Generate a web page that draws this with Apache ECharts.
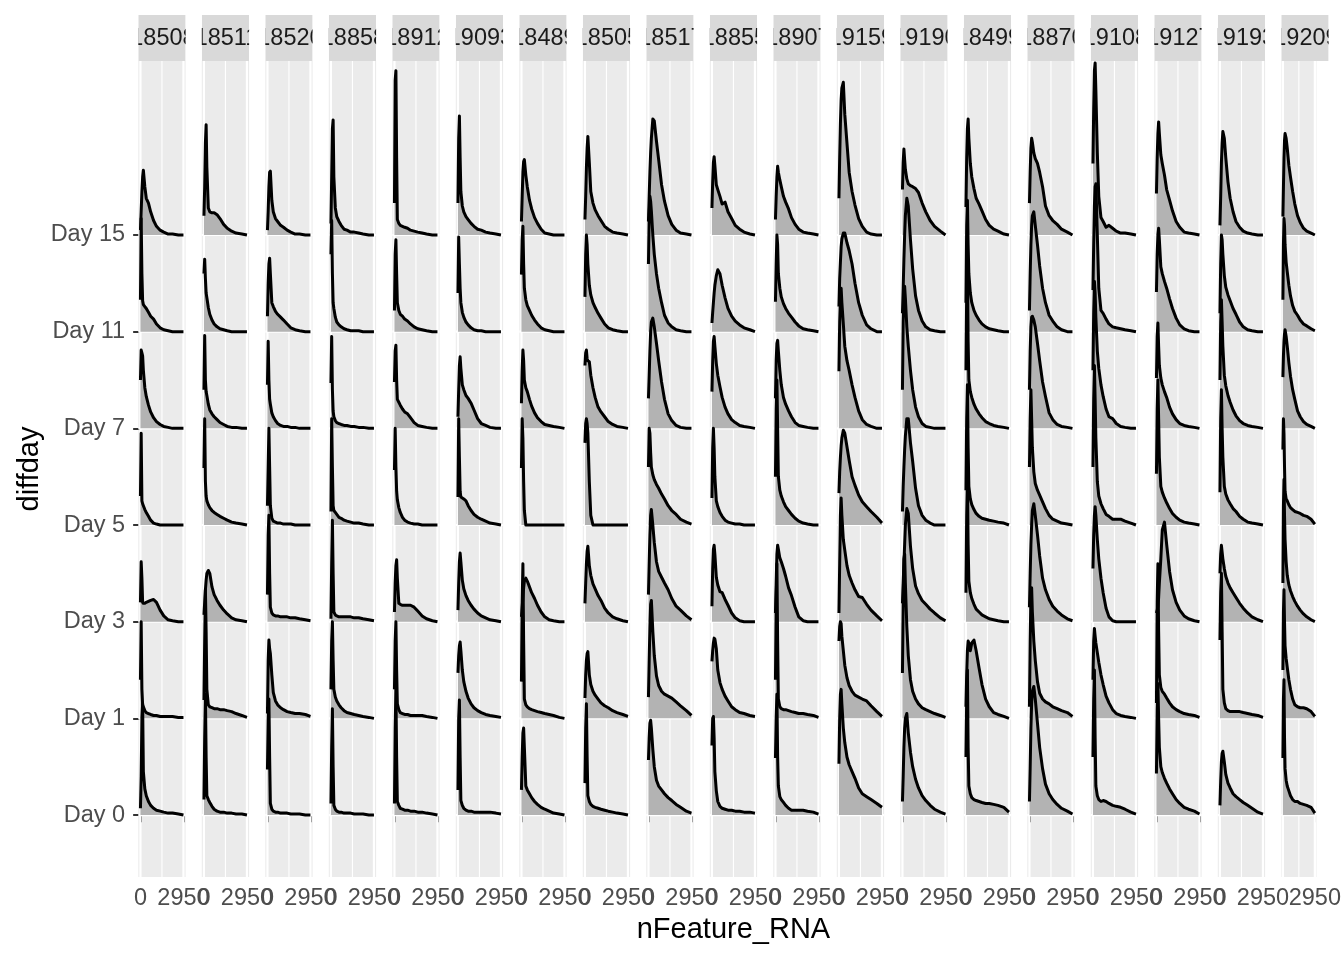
<!DOCTYPE html>
<html><head><meta charset="utf-8">
<script src="https://cdn.jsdelivr.net/npm/echarts@6/dist/echarts.min.js"></script>
<style>html,body{margin:0;padding:0;background:#fff}#c{width:1344px;height:960px}</style>
</head><body><div id="c"></div>
<script>
// ---------------- data ----------------
const individuals = ['18508','18511','18520','18858','18912','19093','18489','18505','18517','18855','18907','19159','19190','18499','18870','19108','19127','19193','19209'];
const dayLabels = ['Day 0','Day 1','Day 3','Day 5','Day 7','Day 11','Day 15'];
const dayPos = [0,1,2,3,4,5,6];
const xBreaks = [0, 2950];
const xMinorBreaks = [1475];
// nFeature_RNA grid on which ridge heights are read
const xGrid = [0,50,100,150,200,300,400,550,700,900,1100,1350,1600,1900,2200,2600,2950];
// ridge heights (in hundredths of one row), rows: Day 0, Day 1, Day 3, Day 5, Day 7, Day 11, Day 15
const ind18508 = [
 [7,40,100,115,45,27,20,14,10,7,5,4,3,2,2,1,0],
 [40,100,30,14,12,8,6,5,4,3,3,2,2,2,2,1,1],
 [20,62,45,20,19,19,20,21,22,23,20,12,6,2,1,0,0],
 [30,95,25,22,20,16,13,9,5,2,1,0,0,0,0,0,0],
 [50,81,78,75,60,42,33,24,17,11,7,4,2,1,0,0,0],
 [33,117,60,32,28,26,24,20,16,13,8,4,2,1,0,0,0],
 [5,25,45,60,67,50,38,33,24,15,9,5,3,1,1,0,0]];
const ind18511 = [
 [16,80,125,60,20,16,13,9,6,4,3,3,2,2,1,1,0],
 [19,80,133,90,30,14,12,11,10,10,9,9,8,7,5,3,1],
 [7,20,33,43,50,53,50,36,28,22,17,12,8,4,2,1,0],
 [59,110,45,30,25,21,18,15,13,11,9,7,5,3,2,1,0],
 [40,96,50,38,34,25,19,15,12,9,6,4,2,1,1,0,0],
 [60,75,55,40,35,25,18,12,8,5,3,2,1,0,0,0,0],
 [20,50,95,114,70,28,24,23,23,21,17,11,7,4,2,1,0]];
const ind18520 = [
 [47,100,120,60,12,6,4,3,3,2,2,2,1,1,1,0,0],
 [5,60,81,72,67,45,27,18,14,11,9,7,6,5,5,4,2],
 [28,90,110,50,15,9,7,6,6,5,5,5,4,4,3,2,1],
 [20,60,100,60,20,7,4,3,2,2,1,1,1,0,0,0,0],
 [45,90,50,30,25,16,12,8,5,3,2,2,1,1,0,0,0],
 [16,50,70,76,60,30,26,21,18,15,12,8,4,2,1,0,0],
 [5,25,50,65,66,36,24,17,14,10,8,5,3,1,1,0,0]];
const ind18858 = [
 [12,70,110,50,10,6,4,3,3,2,2,2,1,1,1,0,0],
 [30,80,100,60,30,22,18,14,11,8,6,5,4,3,2,1,0],
 [3,60,105,50,10,7,6,5,5,5,5,5,4,4,3,2,1],
 [14,110,60,20,15,13,11,8,7,5,4,3,2,2,1,0,0],
 [47,95,40,18,12,8,6,5,4,3,3,2,2,1,1,0,0],
 [80,115,60,30,24,15,10,7,5,3,2,1,1,1,0,0,0],
 [12,60,110,119,60,28,19,14,10,6,5,3,3,2,1,0,0]];
const ind18912 = [
 [12,90,130,60,14,10,7,6,5,5,4,4,3,3,2,1,0],
 [30,80,100,50,15,9,6,5,4,4,3,3,3,3,2,1,0],
 [10,40,58,64,45,19,18,17,17,17,17,15,11,6,3,1,0],
 [57,100,60,35,26,18,13,8,5,3,2,1,1,0,0,0,0],
 [48,80,86,50,30,27,24,20,17,15,11,6,3,2,1,0,0],
 [22,80,95,60,30,22,18,16,13,11,8,5,3,2,1,0,0],
 [33,160,170,80,16,12,10,9,8,7,5,4,3,2,1,0,0]];
const ind19093 = [
 [26,100,119,60,15,10,7,5,4,4,3,3,3,3,3,2,1],
 [47,65,75,79,70,50,38,28,21,15,11,8,6,4,3,2,1],
 [12,40,62,71,62,43,34,27,22,17,13,9,6,4,2,1,0],
 [29,110,70,35,29,28,27,25,20,15,11,8,6,4,2,1,0],
 [12,40,65,74,62,45,40,34,31,26,19,10,5,3,1,0,0],
 [40,98,70,45,30,20,15,10,7,4,2,1,1,0,0,0,0],
 [33,100,123,80,45,30,24,19,16,12,9,6,5,3,2,1,0]];
const ind18489 = [
 [26,60,85,90,70,30,26,22,18,14,11,8,6,4,2,1,0],
 [38,120,160,80,20,14,12,10,9,8,7,6,5,4,3,1,0],
 [5,15,25,35,42,45,42,36,30,24,17,10,5,2,1,0,0],
 [59,110,90,45,15,0,0,0,0,0,0,0,0,0,0,0,0],
 [26,60,81,70,50,42,38,30,23,16,11,7,4,3,2,1,0],
 [59,95,109,70,45,33,27,22,17,12,8,4,2,1,0,0,0],
 [14,40,65,76,78,62,50,36,27,18,12,6,2,1,0,0,0]];
const ind18505 = [
 [33,90,115,60,20,14,11,9,8,7,6,5,4,3,2,1,0],
 [21,45,60,67,69,45,35,28,24,20,16,13,11,8,6,4,2],
 [19,40,60,73,78,58,48,39,34,27,22,14,9,5,3,1,0],
 [85,105,110,105,95,45,10,0,0,0,0,0,0,0,0,0,0],
 [65,78,81,72,70,69,55,42,32,22,17,12,7,4,2,1,0],
 [36,80,100,90,70,48,38,30,25,19,14,8,4,2,1,0,0],
 [16,40,70,90,102,75,45,33,26,20,15,9,6,3,2,1,0]];
const ind18517 = [
 [57,80,95,98,90,68,50,36,30,26,22,18,15,11,8,4,2],
 [22,60,95,118,122,90,65,44,34,28,25,23,21,17,13,8,3],
 [28,60,90,110,116,100,82,62,52,46,40,33,24,16,12,6,2],
 [60,100,95,75,60,52,47,42,38,32,27,20,15,11,6,3,1],
 [31,55,80,100,110,114,105,88,70,48,30,15,8,3,1,0,0],
 [70,120,140,135,125,100,80,60,45,30,17,9,5,2,1,0,0],
 [14,40,65,85,100,120,118,97,78,52,35,20,11,5,2,1,0]];
const ind18855 = [
 [72,100,102,80,45,25,14,9,7,6,5,5,4,4,3,3,2],
 [59,70,78,83,82,72,50,37,30,23,18,12,9,6,5,3,2],
 [16,55,75,79,70,46,38,31,30,23,17,9,4,1,0,0,0],
 [28,80,100,80,50,25,19,13,9,5,3,2,1,1,0,0,0],
 [38,70,90,95,85,67,55,43,32,22,15,9,6,3,2,1,0],
 [9,20,30,40,48,58,64,60,48,35,24,16,11,7,4,2,0],
 [28,55,75,81,72,52,47,40,32,34,24,17,10,6,3,1,0]];
const ind18907 = [
 [59,100,125,60,30,19,16,13,10,7,5,5,5,5,4,3,1],
 [40,120,160,80,20,12,10,9,9,8,7,6,5,5,4,3,1],
 [9,40,70,79,75,66,62,55,47,35,27,15,5,1,0,0,0],
 [50,120,150,100,50,36,30,24,19,15,11,7,4,2,1,0,0],
 [31,70,88,91,80,60,45,32,25,18,12,6,3,2,1,0,0],
 [31,70,100,90,60,45,36,29,24,19,15,10,6,3,2,1,0],
 [16,40,60,71,65,57,50,40,34,27,18,11,6,3,2,1,0]];
const ind19159 = [
 [53,100,125,130,115,90,75,60,52,45,38,28,22,19,16,12,8],
 [80,95,100,98,85,70,55,42,34,28,24,22,20,18,13,7,2],
 [9,60,110,128,110,85,74,58,48,40,33,26,25,18,12,6,1],
 [33,55,70,82,90,98,95,81,67,50,41,31,24,19,14,8,2],
 [59,110,135,145,130,108,85,70,60,45,32,18,9,4,2,0,0],
 [26,55,72,88,96,102,102,92,84,70,50,30,17,7,3,0,0],
 [38,80,115,140,152,158,125,95,65,45,31,17,9,3,1,0,0]];
const ind19190 = [
 [14,40,70,90,100,105,85,65,50,37,28,20,15,10,6,3,1],
 [47,120,165,170,140,95,65,40,28,20,15,11,9,7,5,3,1],
 [19,40,60,80,100,117,112,78,55,37,29,22,18,13,9,4,1],
 [14,40,60,78,92,110,110,85,66,38,20,10,5,2,0,0,0],
 [40,110,140,147,135,105,85,60,40,22,12,5,2,1,0,0,0],
 [19,45,75,100,120,138,130,95,65,37,22,11,5,2,1,0,0],
 [47,75,89,78,68,58,53,51,50,48,44,33,24,15,9,4,0]];
const ind18499 = [
 [60,120,150,70,30,22,18,16,15,14,13,12,12,11,10,8,3],
 [12,45,70,80,78,70,78,81,70,52,35,20,12,6,4,2,0],
 [30,110,150,80,42,30,24,18,13,10,7,5,3,2,1,0,0],
 [36,110,145,80,40,27,21,16,12,9,7,6,5,4,3,2,0],
 [60,140,170,90,50,38,32,25,20,15,11,7,5,3,2,1,0],
 [30,110,136,90,60,40,30,22,17,12,8,5,3,2,1,0,0],
 [29,80,110,120,100,74,60,48,38,32,25,16,10,6,4,1,0]];
const ind18870 = [
 [14,50,90,115,128,133,120,95,70,48,32,22,16,11,7,4,1],
 [12,80,125,135,110,80,60,38,26,20,17,15,12,10,8,6,2],
 [15,50,80,100,115,122,110,90,68,45,33,23,16,11,7,3,1],
 [60,110,140,110,80,55,43,36,31,24,17,10,6,4,2,1,0],
 [40,80,105,115,116,112,105,88,70,48,33,16,9,4,2,1,0],
 [22,60,90,110,120,124,110,90,68,45,30,17,11,5,2,0,0],
 [33,65,90,100,96,85,79,74,65,50,30,20,15,11,6,3,0]];
const ind19108 = [
 [60,120,150,80,30,20,16,14,15,14,12,10,9,8,6,3,1],
 [40,80,93,85,78,68,58,45,35,23,16,9,5,3,2,1,0],
 [55,90,110,119,110,85,65,45,30,14,5,1,0,0,0,0,0],
 [60,130,165,130,90,45,30,22,17,11,9,6,6,6,4,2,0],
 [60,120,152,140,115,80,62,45,33,20,12,10,5,2,1,0,0],
 [43,90,130,150,153,100,45,22,19,13,8,5,4,3,2,1,0],
 [74,130,170,178,150,85,40,18,14,8,10,7,4,2,2,1,0]];
const ind19127 = [
 [43,110,136,100,70,50,44,38,33,27,22,16,12,8,6,4,1],
 [16,120,160,90,45,32,28,25,21,16,12,9,7,5,4,3,1],
 [9,12,16,25,40,65,95,103,80,52,33,20,12,6,3,1,0],
 [53,120,150,110,70,40,34,28,23,17,12,8,5,3,2,1,0],
 [52,95,109,85,65,52,45,38,32,22,15,9,5,3,2,1,0],
 [41,80,100,107,95,67,60,52,45,34,24,14,7,3,1,0,0],
 [43,80,105,117,105,83,74,62,47,36,25,14,8,3,2,1,0]];
const ind19193 = [
 [10,35,55,64,66,55,42,33,28,22,19,16,13,10,7,3,1],
 [81,130,150,90,30,16,10,8,7,7,7,7,6,5,4,3,1],
 [50,70,79,72,65,55,47,40,35,30,25,19,14,9,5,2,0],
 [34,110,140,100,70,40,32,26,22,17,14,9,6,3,2,1,0],
 [50,110,133,110,85,55,44,34,27,19,13,8,5,3,2,1,0],
 [19,70,100,95,80,58,46,38,32,24,18,10,5,2,1,0,0],
 [10,40,75,95,107,100,80,55,38,24,14,8,4,2,1,0,0]];
const ind19209 = [
 [59,120,140,80,48,36,30,25,20,16,14,14,12,11,10,8,2],
 [50,110,133,100,75,62,53,40,30,20,14,12,11,11,10,7,2],
 [40,120,147,110,85,62,48,38,32,26,21,16,12,8,5,2,0],
 [78,110,95,60,35,27,25,21,18,16,14,13,12,10,9,6,1],
 [53,75,90,98,102,95,85,68,54,40,30,18,12,7,4,2,0],
 [33,90,117,110,90,72,62,48,37,27,21,17,12,8,6,3,1],
 [19,50,80,98,105,100,90,72,60,45,32,20,13,7,4,2,0]];

const panelData = [ind18508, ind18511, ind18520, ind18858, ind18912, ind19093, ind18489, ind18505, ind18517,
  ind18855, ind18907, ind19159, ind19190, ind18499, ind18870, ind19108, ind19127, ind19193, ind19209];

// ---------------- layout / style ----------------
const FONT = '"Liberation Sans", Arial, Helvetica, sans-serif';
const PANEL_L0 = 138.3, PANEL_STEP = 63.5, PANEL_W = 47.3, PANEL_T = 61, PANEL_H = 816;
const STRIP_T = 15, STRIP_H = 46;
const X_MIN = -147.5, X_MAX = 3097.5, Y_MIN = -0.641, Y_MAX = 7.80;
const HSCALE = 100;
const drawOrder = [6,5,4,3,2,1,0];

const grids = [], xAxes = [], yAxes = [], series = [], graphics = [];

individuals.forEach((id, i) => {
  const left = PANEL_L0 + PANEL_STEP * i;
  const rows = panelData[i];
  grids.push({left: left, top: PANEL_T, width: PANEL_W, height: PANEL_H, show: true,
    backgroundColor: '#EBEBEB', borderWidth: 0, containLabel: false});
  xAxes.push({gridIndex: i, type: 'value', min: X_MIN, max: X_MAX,
    axisLine: {show: false}, splitLine: {show: false},
    axisTick: {show: true, length: 7.3, customValues: xBreaks, lineStyle: {color: '#333333', width: 2}},
    axisLabel: {show: true, customValues: xBreaks, margin: 10, color: '#4D4D4D', fontSize: 23.5, fontFamily: FONT,
      hideOverlap: false, formatter: v => String(v)}});
  yAxes.push({gridIndex: i, type: 'value', min: Y_MIN, max: Y_MAX,
    axisLine: {show: false}, splitLine: {show: false},
    axisTick: {show: i === 0, length: 7.3, customValues: dayPos, lineStyle: {color: '#333333', width: 2}},
    axisLabel: {show: i === 0, customValues: dayPos, margin: 13.2, color: '#4D4D4D', fontSize: 23.5, fontFamily: FONT,
      formatter: v => dayLabels[Math.round(v)]}});
  // panel grid lines
  series.push({type: 'custom', xAxisIndex: i, yAxisIndex: i, silent: true, z: 1, data: [[0, 0]],
    encode: {x: 0, y: 1},
    renderItem: (params, api) => {
      const ch = [];
      const yb = api.coord([0, Y_MIN])[1], yt = api.coord([0, Y_MAX])[1];
      const xl = api.coord([X_MIN, 0])[0], xr = api.coord([X_MAX, 0])[0];
      xMinorBreaks.forEach(v => { const x = api.coord([v, 0])[0];
        ch.push({type: 'line', shape: {x1: x, y1: yb, x2: x, y2: yt}, style: {stroke: '#FFFFFF', lineWidth: 1.1}}); });
      xBreaks.forEach(v => { const x = api.coord([v, 0])[0];
        ch.push({type: 'line', shape: {x1: x, y1: yb, x2: x, y2: yt}, style: {stroke: '#FFFFFF', lineWidth: 2.2}}); });
      dayPos.forEach(d => { const y = api.coord([0, d])[1];
        ch.push({type: 'line', shape: {x1: xl, y1: y, x2: xr, y2: y}, style: {stroke: '#FFFFFF', lineWidth: 2.2}}); });
      return {type: 'group', children: ch};
    }});
  // density ridges
  series.push({type: 'custom', xAxisIndex: i, yAxisIndex: i, silent: true, z: 2,
    data: drawOrder.map(d => [0, d]), encode: {x: 0, y: 1},
    renderItem: (params, api) => {
      const d = api.value(1);
      const h = rows[d];
      const line = xGrid.map((x, k) => api.coord([x, d + h[k] / HSCALE]));
      const b0 = api.coord([xGrid[0], d]), b1 = api.coord([xGrid[xGrid.length - 1], d]);
      return {type: 'group', children: [
        {type: 'polygon', shape: {points: [b0].concat(line, [b1])}, style: {fill: '#B3B3B3'}},
        {type: 'polyline', shape: {points: line}, style: {stroke: '#000000', lineWidth: 3, fill: null, lineJoin: 'round'}}
      ]};
    }});
  // strip
  graphics.push({type: 'rect', z: 10, shape: {x: left, y: STRIP_T, width: PANEL_W, height: STRIP_H}, style: {fill: '#D9D9D9'}});
  graphics.push({type: 'text', z: 11, x: left + PANEL_W / 2 + 1, y: STRIP_T + STRIP_H / 2 + 1,
    style: {text: id, fill: '#1A1A1A', font: '23.5px ' + FONT, align: 'center', verticalAlign: 'middle'}});
});
// cover strip-label overflow in the gaps between strips
graphics.push({type: 'rect', z: 12, shape: {x: 0, y: STRIP_T, width: PANEL_L0, height: STRIP_H}, style: {fill: '#FFFFFF'}});
for (let i = 0; i < individuals.length; i++) {
  const r = PANEL_L0 + PANEL_STEP * i + PANEL_W;
  const w = (i < individuals.length - 1) ? (PANEL_STEP - PANEL_W) : (1344 - r);
  graphics.push({type: 'rect', z: 12, shape: {x: r, y: STRIP_T, width: w, height: STRIP_H}, style: {fill: '#FFFFFF'}});
}
// axis titles
const plotCenterX = PANEL_L0 + (PANEL_STEP * (individuals.length - 1) + PANEL_W) / 2;
graphics.push({type: 'text', z: 11, x: plotCenterX, y: 930,
  style: {text: 'nFeature_RNA', fill: '#000000', font: '29px ' + FONT, align: 'center', verticalAlign: 'middle'}});
graphics.push({type: 'text', z: 11, x: 30, y: PANEL_T + PANEL_H / 2, rotation: Math.PI / 2,
  style: {text: 'diffday', fill: '#000000', font: '29px ' + FONT, align: 'center', verticalAlign: 'middle'}});

const chart = echarts.init(document.getElementById('c'), null, {renderer: 'canvas', width: 1344, height: 960});
chart.setOption({
  animation: false,
  backgroundColor: '#FFFFFF',
  grid: grids, xAxis: xAxes, yAxis: yAxes, series: series, graphic: graphics
});
</script></body></html>
